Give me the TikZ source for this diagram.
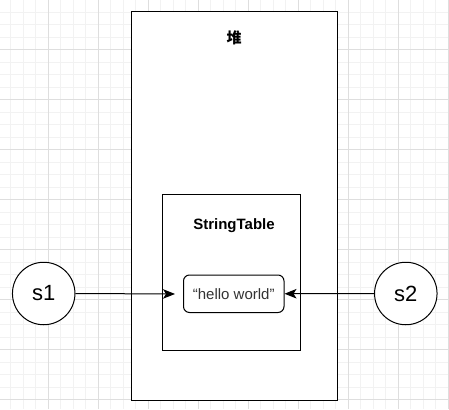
\documentclass[tikz,border=0pt]{standalone}
\usepackage{fontspec}
\setmainfont{Liberation Sans}
\newfontfamily\cjk{Noto Sans CJK SC}
\usetikzlibrary{arrows.meta}
\definecolor{gridminor}{HTML}{F2F2F2}
\definecolor{gridmajor}{HTML}{DEDEDE}
\definecolor{txtgray}{HTML}{333333}
\tikzset{
  box/.style={draw=black, line width=1pt, fill=white},
  hbox/.style={draw=black, line width=1pt, fill=white, rounded corners=6pt},
  circ/.style={draw=black, line width=1pt, fill=white, circle, inner sep=0pt, minimum size=62.5pt},
  lbl/.style={inner sep=0pt, font=\fontsize{15}{18}\selectfont\bfseries},
  conn/.style={draw=black, line width=1pt, -{Stealth[length=12pt,width=9.5pt,inset=3pt]}},
}
\begin{document}
\begin{tikzpicture}[x=1pt,y=-1pt]
\useasboundingbox (0,0) rectangle (449,409);
\fill[white] (0,0) rectangle (449,409);
% grid
\foreach \i in {0,...,36} {
  \draw[gridminor, line width=0.8pt] ({10.5+12.5*\i},0) -- ({10.5+12.5*\i},409);
}
\foreach \i in {0,...,33} {
  \draw[gridminor, line width=0.8pt] (0,{-0.5+12.5*\i}) -- (449,{-0.5+12.5*\i});
}
\foreach \i in {0,...,8} {
  \draw[gridmajor, line width=0.8pt] ({48+50*\i},0) -- ({48+50*\i},409);
  \draw[gridmajor, line width=0.8pt] (0,{49.5+50*\i}) -- (449,{49.5+50*\i});
}
% heap
\draw[box] (131,12) rectangle (337,400);
\node[lbl] (heaplbl) at (234,38) {\cjk\bfseries 堆};
% string table
\draw[box] (162,194) rectangle (300,350);
\node[lbl] (stlbl) at (234,226) {StringTable};
% hello world
\node[hbox, minimum width=100.5pt, minimum height=37.5pt, inner sep=0pt,
      text=txtgray, font=\fontsize{15}{18}\selectfont] (hello) at (233.75,293.75) {“hello world”};
% circles
\node[circ, font=\fontsize{22}{26}\selectfont] (s1) at (43.7,293.5) {s1};
\node[circ, font=\fontsize{22}{26}\selectfont] (s2) at (405.8,293.5) {s2};
\coordinate (s1end) at (175,294);
\draw[conn] (s1.east) -- (s1end);
\draw[conn] (s2.west) -- (hello.east);
\end{tikzpicture}
\end{document}
